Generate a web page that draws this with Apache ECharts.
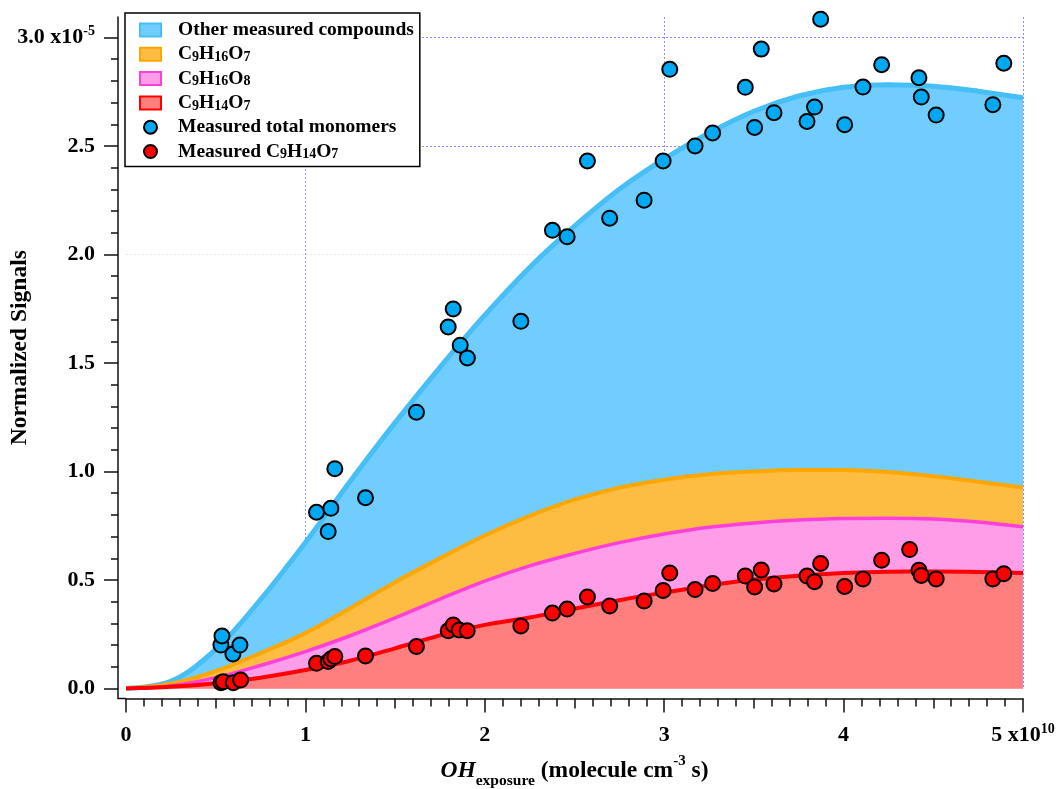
<!DOCTYPE html>
<html>
<head>
<meta charset="utf-8">
<script src="https://cdn.jsdelivr.net/npm/echarts@6/dist/echarts.min.js"></script>
<style>html,body{margin:0;padding:0;background:#fff}#c{width:1059px;height:789px}</style>
</head>
<body>
<div id="c"></div>
<script>
// ---- data (x in units of 1e10 molecule cm^-3 s, y in units of 1e-5) ----
const xCurve = [0,0.25,0.5,0.75,1,1.25,1.5,1.75,2,2.25,2.5,2.75,3,3.25,3.5,3.75,4,4.25,4.5,4.75,5];
const totalTop   = [0,0.033,0.18,0.41,0.673,0.955,1.225,1.48,1.72,1.94,2.13,2.30,2.44,2.56,2.66,2.73,2.77,2.782,2.775,2.752,2.722];
const c9h16o7Top = [0,0.022,0.08,0.163,0.255,0.37,0.49,0.60,0.705,0.795,0.87,0.925,0.962,0.987,1.0,1.007,1.007,0.997,0.978,0.953,0.926];
const c9h16o8Top = [0,0.012,0.05,0.106,0.17,0.243,0.325,0.412,0.495,0.565,0.622,0.672,0.712,0.743,0.763,0.776,0.783,0.785,0.781,0.767,0.745];
const c9h14o7Top = [0,0.008,0.024,0.05,0.085,0.128,0.185,0.245,0.293,0.327,0.368,0.407,0.442,0.475,0.502,0.52,0.532,0.538,0.539,0.537,0.532];

const totalX = [0.529,0.535,0.596,0.635,1.062,1.164,1.142,1.127,1.335,1.619,1.796,1.824,1.863,1.903,2.201,2.377,2.459,2.572,2.696,2.888,2.994,3.031,3.172,3.270,3.452,3.504,3.541,3.612,3.796,3.838,3.872,4.006,4.108,4.212,4.420,4.433,4.516,4.832,4.893];
const totalY = [0.200,0.242,0.159,0.200,0.812,1.013,0.830,0.723,0.879,1.273,1.666,1.749,1.582,1.523,1.692,2.111,2.082,2.431,2.167,2.250,2.431,2.853,2.500,2.560,2.770,2.585,2.946,2.653,2.613,2.679,3.084,2.598,2.771,2.874,2.814,2.725,2.642,2.690,2.881];

const c9h14o7X = [0.529,0.542,0.598,0.639,1.062,1.127,1.142,1.164,1.335,1.619,1.796,1.824,1.857,1.902,2.201,2.377,2.459,2.572,2.696,2.888,2.994,3.031,3.172,3.270,3.452,3.504,3.541,3.612,3.796,3.838,3.872,4.006,4.108,4.212,4.368,4.420,4.433,4.516,4.832,4.893];
const c9h14o7Y = [0.027,0.031,0.027,0.039,0.116,0.124,0.136,0.147,0.150,0.193,0.266,0.293,0.270,0.266,0.288,0.348,0.366,0.422,0.380,0.403,0.452,0.532,0.456,0.484,0.518,0.468,0.546,0.482,0.518,0.492,0.576,0.470,0.505,0.591,0.640,0.545,0.521,0.505,0.505,0.529];

const seriesNames = ['Other measured compounds','C9H16O7','C9H16O8','C9H14O7','Measured total monomers','Measured C9H14O7'];

// ---- chart ----
const FONT = '"Liberation Serif","Times New Roman",serif';
const zip = (a, b) => a.map((v, i) => [v, b[i]]);
const AX = '#111';
const GRID_COL = '#8c8cff';

const chart = echarts.init(document.getElementById('c'), null, {renderer: 'canvas'});

const tickLab = {fontFamily: FONT, fontWeight: 'bold', fontSize: 22, color: '#000'};
const titleLab = {fontFamily: FONT, fontWeight: 'bold', fontSize: 23.5, color: '#000'};
const supLab = {fontFamily: FONT, fontWeight: 'bold', fontSize: 14, color: '#000', lineHeight: 14, verticalAlign: 'top'};

const option = {
  animation: false,
  backgroundColor: '#fff',
  grid: [
    {left: 126, right: 36, top: 17, bottom: 100.5, outerBoundsMode: 'none', containLabel: false},
    {left: 126, right: 36, top: 37.5, bottom: 100.5, outerBoundsMode: 'none', containLabel: false}
  ],
  xAxis: [
    {
      gridIndex: 0, type: 'value', min: 0, max: 5, interval: 1, offset: 10, position: 'bottom',
      axisLine: {show: true, onZero: false, lineStyle: {color: AX, width: 1.5}},
      axisTick: {show: true, length: 14, lineStyle: {color: AX, width: 1.5}},
      minorTick: {show: true, splitNumber: 10, length: 8, lineStyle: {color: AX, width: 1.5}},
      splitLine: {show: true, lineStyle: {color: ['rgba(0,0,0,0)', GRID_COL], type: [2, 2], width: 1}},
      minorSplitLine: {show: false},
      axisLabel: {
        margin: 24,
        ...tickLab,
        formatter: v => v === 5 ? '{a|5 x10}{s|10}' : '{a|' + v + '}',
        rich: {a: {...tickLab, lineHeight: 26}, s: supLab}
      },
      name: '{i|OH}{sub|exposure}{n| (molecule cm}{sup|-3}{n| s)}',
      nameLocation: 'middle', nameGap: 55,
      nameTextStyle: {
        ...titleLab,
        rich: {
          i: {...titleLab, fontStyle: 'italic', lineHeight: 35},
          n: {...titleLab, lineHeight: 35},
          sub: {fontFamily: FONT, fontWeight: 'bold', fontSize: 15.5, color: '#000', lineHeight: 15, verticalAlign: 'bottom'},
          sup: {...supLab, fontSize: 15}
        }
      }
    },
    {
      gridIndex: 0, type: 'value', min: 0, max: 5, interval: 0.5, offset: 10, position: 'bottom',
      axisLine: {show: false, onZero: false},
      axisTick: {show: true, length: 10, lineStyle: {color: AX, width: 1.5}},
      axisLabel: {show: false}, splitLine: {show: false}
    },
    {gridIndex: 1, type: 'value', min: 0, max: 5, show: false}
  ],
  yAxis: [
    {
      gridIndex: 0, type: 'value', min: 0, max: 3.094, offset: 8, position: 'left',
      axisLine: {show: true, onZero: false, lineStyle: {color: AX, width: 1.5}},
      axisTick: {show: false}, axisLabel: {show: false}, splitLine: {show: false},
      name: 'Normalized Signals', nameLocation: 'middle', nameGap: 86,
      nameTextStyle: {...titleLab, padding: [0, 0, 0, 10]}
    },
    {
      gridIndex: 1, type: 'value', min: 0, max: 3, interval: 0.5, offset: 8, position: 'left',
      axisLine: {show: false, onZero: false},
      axisTick: {show: true, length: 14, lineStyle: {color: AX, width: 1.5}},
      minorTick: {show: true, splitNumber: 5, length: 7, lineStyle: {color: AX, width: 1.5}},
      splitLine: {show: true, lineStyle: {color: ['rgba(0,0,0,0)','rgba(0,0,0,0)','rgba(0,0,0,0)','rgba(0,0,0,0)','#e6e6ee', GRID_COL, GRID_COL], type: [2, 2], width: 1}},
      axisLabel: {
        margin: 23,
        ...tickLab,
        formatter: v => v === 3 ? '{a|3.0 x10}{s|-5}' : '{a|' + v.toFixed(1) + '}',
        rich: {a: {...tickLab, lineHeight: 26}, s: supLab}
      }
    }
  ],
  legend: {
    orient: 'vertical', left: 125, top: 13,
    padding: [7, 6, 5, 14],
    itemWidth: 21, itemHeight: 13, itemGap: 4.3,
    borderColor: '#000', borderWidth: 1.5, backgroundColor: '#fff',
    selectedMode: false,
    formatter: n => n.replace(/(\d+)/g, '{s|$1}'),
    textStyle: {
      fontFamily: FONT, fontWeight: 'bold', fontSize: 19.5, color: '#000', lineHeight: 20,
      padding: [0, 0, 0, 12],
      rich: {s: {fontFamily: FONT, fontWeight: 'bold', fontSize: 14, color: '#000', lineHeight: 8, verticalAlign: 'bottom'}}
    },
    data: [
      {name: seriesNames[0], icon: 'rect', itemStyle: {color: '#70CDFD', borderColor: '#45BFF6', borderWidth: 2}},
      {name: seriesNames[1], icon: 'rect', itemStyle: {color: '#FDBD42', borderColor: '#FFA600', borderWidth: 2}},
      {name: seriesNames[2], icon: 'rect', itemStyle: {color: '#FF9DE9', borderColor: '#FF3FD9', borderWidth: 2}},
      {name: seriesNames[3], icon: 'rect', itemStyle: {color: '#FF7F7F', borderColor: '#FF0000', borderWidth: 2}},
      {name: seriesNames[4], icon: 'circle', itemStyle: {color: '#00A9F2', borderColor: '#000', borderWidth: 2}},
      {name: seriesNames[5], icon: 'circle', itemStyle: {color: '#FF0000', borderColor: '#000', borderWidth: 2}}
    ]
  },
  series: [
    {
      name: seriesNames[0], type: 'line', xAxisIndex: 0, yAxisIndex: 0, z: 2,
      data: zip(xCurve, totalTop), smooth: 0.35, showSymbol: false,
      lineStyle: {color: '#45BFF6', width: 5}, itemStyle: {color: '#45BFF6'},
      areaStyle: {color: '#70CDFD', opacity: 1, origin: 'start'}
    },
    {
      name: seriesNames[1], type: 'line', xAxisIndex: 0, yAxisIndex: 0, z: 3,
      data: zip(xCurve, c9h16o7Top), smooth: 0.35, showSymbol: false,
      lineStyle: {color: '#FFA600', width: 4}, itemStyle: {color: '#FFA600'},
      areaStyle: {color: '#FDBD42', opacity: 1, origin: 'start'}
    },
    {
      name: seriesNames[2], type: 'line', xAxisIndex: 0, yAxisIndex: 0, z: 4,
      data: zip(xCurve, c9h16o8Top), smooth: 0.35, showSymbol: false,
      lineStyle: {color: '#FF3FD9', width: 3.5}, itemStyle: {color: '#FF3FD9'},
      areaStyle: {color: '#FF9DE9', opacity: 1, origin: 'start'}
    },
    {
      name: seriesNames[3], type: 'line', xAxisIndex: 0, yAxisIndex: 0, z: 5,
      data: zip(xCurve, c9h14o7Top), smooth: 0.35, showSymbol: false,
      lineStyle: {color: '#FF0000', width: 4}, itemStyle: {color: '#FF0000'},
      areaStyle: {color: '#FF7F7F', opacity: 1, origin: 'start'}
    },
    {
      name: seriesNames[4], type: 'scatter', xAxisIndex: 0, yAxisIndex: 0, z: 10,
      data: zip(totalX, totalY), symbol: 'circle', symbolSize: 15,
      itemStyle: {color: '#00A9F2', borderColor: '#000', borderWidth: 2, opacity: 1}
    },
    {
      name: seriesNames[5], type: 'scatter', xAxisIndex: 0, yAxisIndex: 0, z: 11,
      data: zip(c9h14o7X, c9h14o7Y), symbol: 'circle', symbolSize: 15,
      itemStyle: {color: '#FF0000', borderColor: '#000', borderWidth: 2, opacity: 1}
    }
  ]
};
chart.setOption(option);

// close the axis corner (axes are offset from the data area)
const o = chart.convertToPixel({xAxisIndex: 0, yAxisIndex: 0}, [0, 0]);
chart.setOption({
  graphic: [{
    type: 'polyline', silent: true, z: 20,
    shape: {points: [[o[0] - 8, o[1]], [o[0] - 8, o[1] + 10], [o[0], o[1] + 10]]},
    style: {stroke: AX, lineWidth: 1.5, fill: null}
  }]
});
</script>
</body>
</html>
